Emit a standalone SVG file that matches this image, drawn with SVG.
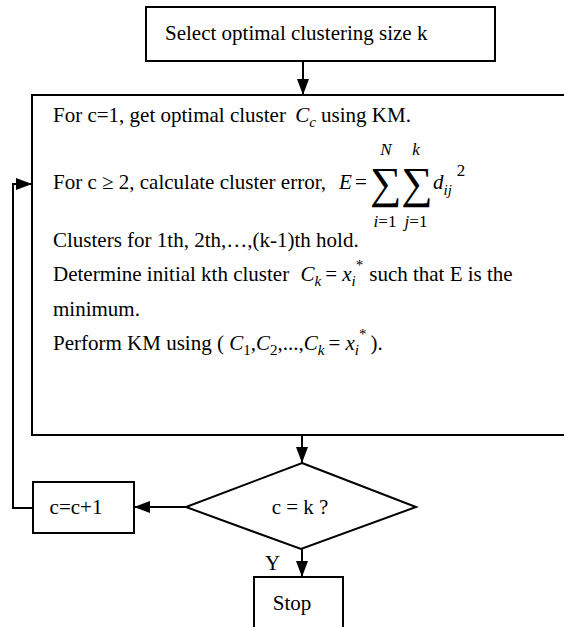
<svg xmlns="http://www.w3.org/2000/svg" width="564" height="627" viewBox="0 0 564 627">
<defs>
<marker id="ah" markerWidth="16" markerHeight="12" refX="16" refY="6" orient="auto" markerUnits="userSpaceOnUse">
<path d="M0,0 L16,6 L0,12 Z" fill="#000"/>
</marker>
<style>
.b{fill:#fff;stroke:#000;stroke-width:2}
.t{font-family:"Liberation Serif","Times New Roman",serif;font-size:21px;fill:#000}
.m{font-style:italic}
.s{font-size:15px}
.u{font-size:17px}
.c{fill:none;stroke:#000;stroke-width:2}
</style>
</defs>
<rect width="564" height="627" fill="#fff"/>
<g id="connectors">
<path class="c" d="M303,62 V95" marker-end="url(#ah)"/>
<path class="c" d="M302,435 V463" marker-end="url(#ah)"/>
<path class="c" d="M186,507 H134" marker-end="url(#ah)"/>
<path class="c" d="M33,508 H13 V184 H32" marker-end="url(#ah)"/>
<path class="c" d="M302,549 V577" marker-end="url(#ah)"/>
<text class="t" x="265" y="570">Y</text>
</g>
<g id="select">
<rect class="b" x="146" y="7" width="349" height="54"/>
<text class="t" x="165" y="40">Select optimal clustering size k</text>
</g>
<g id="main">
<rect class="b" x="32" y="95" width="545" height="340"/>
<text class="t" x="53" y="122">For c=1, get optimal cluster  <tspan class="m" dx="4">C</tspan><tspan class="m s" dy="5">c</tspan><tspan dy="-5"> using KM.</tspan></text>
<text class="t" x="53" y="189">For c ≥ 2, calculate cluster error,</text>
<text class="t m" x="339" y="189">E</text>
<text class="t" x="355" y="189">=</text>
<text class="t" x="370" y="198" style="font-size:44px">∑∑</text>
<text class="t m u" x="386" y="155" text-anchor="middle">N</text>
<text class="t m u" x="416" y="155" text-anchor="middle">k</text>
<text class="t u" x="385" y="227" text-anchor="middle"><tspan class="m">i</tspan>=1</text>
<text class="t u" x="416" y="227" text-anchor="middle"><tspan class="m">j</tspan>=1</text>
<text class="t" x="433" y="189"><tspan class="m">d</tspan><tspan class="m s" dy="6">ij</tspan><tspan class="u" dx="5" dy="-19">2</tspan></text>
<text class="t" x="53" y="247">Clusters for 1th, 2th,…,(k-1)th hold.</text>
<text class="t" x="53" y="281">Determine initial kth cluster  <tspan class="m" dx="6">C</tspan><tspan class="m s" dy="5">k</tspan><tspan dy="-5" dx="4">= </tspan><tspan class="m">x</tspan><tspan class="m s" dy="5">i</tspan><tspan class="s" dy="-16">*</tspan><tspan dy="11" dx="6">such that E is the</tspan></text>
<text class="t" x="53" y="316">minimum.</text>
<text class="t" x="53" y="350">Perform KM using ( <tspan class="m">C</tspan><tspan class="s" dy="5">1</tspan><tspan dy="-5">,</tspan><tspan class="m">C</tspan><tspan class="s" dy="5">2</tspan><tspan dy="-5">,...,</tspan><tspan class="m">C</tspan><tspan class="m s" dy="5">k</tspan><tspan dy="-5" dx="4">= </tspan><tspan class="m">x</tspan><tspan class="m s" dy="5">i</tspan><tspan class="s" dy="-16">*</tspan><tspan dy="11" dx="4">).</tspan></text>
</g>
<g id="decision">
<polygon class="b" points="302,463 416,507 301,549 186,507"/>
<text class="t" x="300" y="514" text-anchor="middle">c = k ?</text>
</g>
<g id="increment">
<rect class="b" x="33" y="482" width="101" height="51"/>
<text class="t" x="76" y="514" text-anchor="middle">c=c+1</text>
</g>
<g id="stop">
<rect class="b" x="254" y="577" width="89" height="60"/>
<text class="t" x="292" y="610" text-anchor="middle">Stop</text>
</g>
</svg>
